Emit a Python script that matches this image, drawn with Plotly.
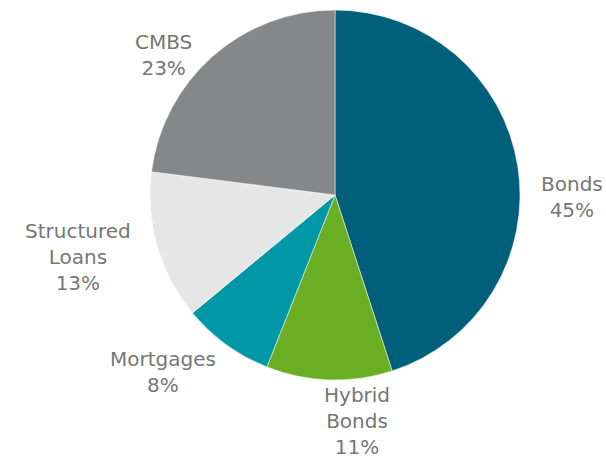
import plotly.graph_objects as go

labels = ["Bonds", "Hybrid<br>Bonds", "Mortgages", "Structured<br>Loans", "CMBS"]
values = [45, 11, 8, 13, 23]
colors = ["#005f7a", "#6aae24", "#0098a6", "#e6e6e6", "#868789"]

# label centres in pixels from the top-left corner
label_pos = [(572, 197), (357, 421), (163, 372), (78, 257), (163, 55)]

W, H = 606, 463

fig = go.Figure(go.Pie(
    labels=labels,
    values=values,
    sort=False,
    direction="clockwise",
    rotation=0,
    marker=dict(colors=colors, line=dict(color="white", width=0.5)),
    textinfo="none",
    hoverinfo="label+percent",
    automargin=False,
    domain=dict(x=[64 / W, 1], y=[83 / H, 453 / H]),
    showlegend=False,
))

for lab, val, (px, py) in zip(labels, values, label_pos):
    fig.add_annotation(
        x=px / W, y=1 - py / H,
        xref="paper", yref="paper",
        text=f"{lab}<br>{val}%",
        showarrow=False,
        xanchor="center", yanchor="middle", align="center",
        borderpad=0,
        font=dict(family="DejaVu Sans, Verdana, sans-serif", size=20, color="#767676"),
    )

fig.update_layout(
    width=W,
    height=H,
    margin=dict(l=0, r=0, t=0, b=0),
    paper_bgcolor="white",
    plot_bgcolor="white",
)

fig.write_html("out.html", config={"displayModeBar": False},
               post_script="document.body.style.margin='0';")
